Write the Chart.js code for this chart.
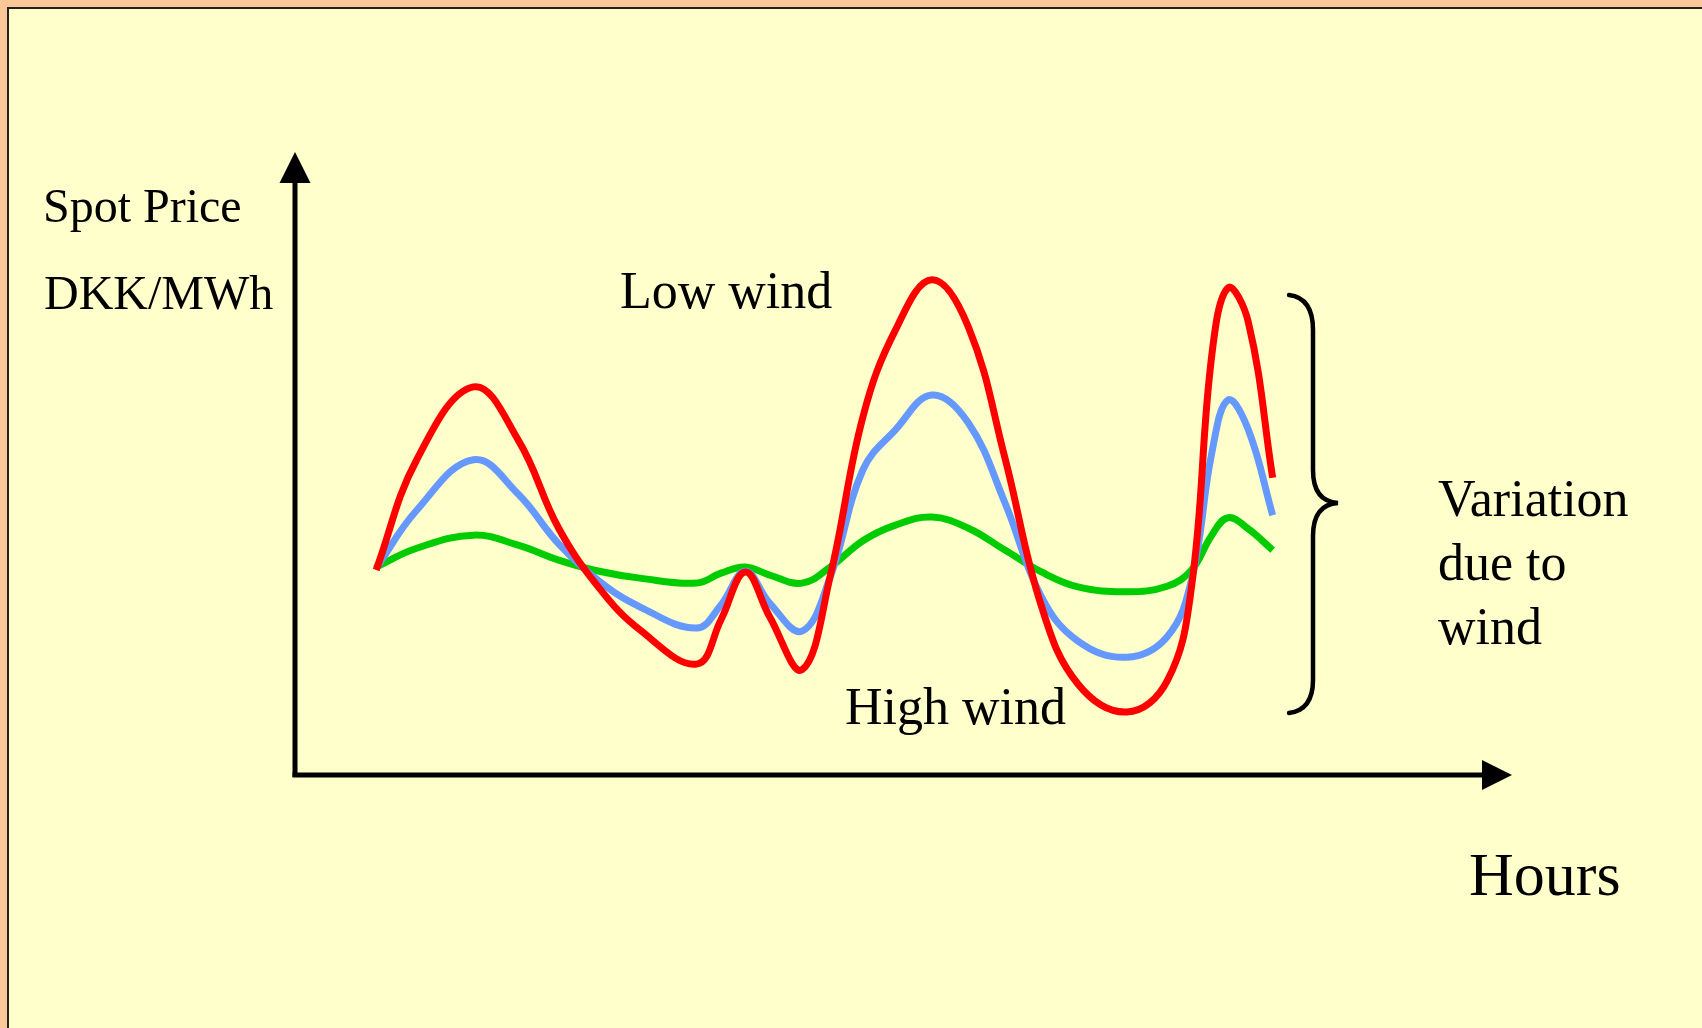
<!DOCTYPE html>
<html>
<head>
<meta charset="utf-8">
<script src="https://cdn.jsdelivr.net/npm/chart.js@4"></script>
<style>
  html, body { margin: 0; padding: 0; background: #ffffcc; overflow: hidden; }
  canvas { display: block; }
</style>
</head>
<body>
<canvas id="myChart" width="1702" height="1028"></canvas>
<script>
// hours along the x axis (schematic)
var hours = [2, 3, 4.4, 5.5, 6.5, 7.5, 8.5, 9.9, 10.5, 11.1, 11.7, 12.5, 13.2, 14, 14.8, 15.7, 16.6, 17.5, 18.4, 19.3, 20.5, 21.5, 22.1, 22.6, 23, 23.5, 24.1];

// spot price, arbitrary units
var lowWind = [32.9, 50.6, 62.3, 53.8, 39.6, 30.0, 23.3, 17.8, 24.9, 32.6, 25.4, 16.9, 32.1, 57.5, 71.4, 79.5, 71.9, 50.9, 27.1, 14.6, 10.1, 15.1, 30.2, 67.4, 78.2, 72.7, 47.7];
var midWind = [33.2, 42.5, 50.6, 45.1, 37.1, 31.1, 27.0, 23.6, 27.3, 32.7, 27.6, 23.1, 31.9, 49.0, 55.4, 61.0, 56.5, 43.7, 28.6, 21.5, 18.9, 22.2, 31.3, 51.7, 60.2, 55.4, 41.7];
var highWind = [33.4, 36.4, 38.5, 36.9, 34.5, 32.7, 31.6, 30.8, 32.4, 33.4, 32.1, 30.8, 33.4, 37.6, 40.1, 41.4, 39.6, 36.1, 32.6, 30.2, 29.4, 30.3, 32.9, 38.5, 41.3, 39.5, 36.1];

var xMax = 30;
var yMax = 100;

function pts(vals) {
  return vals.map(function (v, i) { return { x: hours[i], y: v }; });
}

var serif = '"Liberation Serif", "Times New Roman", serif';

var decor = {
  id: 'decor',
  beforeDraw: function (chart) {
    var c = chart.ctx;
    c.save();
    // orange margin + pale yellow slide with dark frame line
    c.fillStyle = '#fac898';
    c.fillRect(0, 0, chart.width, chart.height);
    c.fillStyle = '#ffffcc';
    c.fillRect(7, 7, chart.width, chart.height);
    c.fillStyle = '#222';
    c.fillRect(7, 7, chart.width, 2);
    c.fillRect(7, 7, 2, chart.height);
    c.restore();
  },
  afterDraw: function (chart) {
    var c = chart.ctx;
    var xs = chart.scales.x, ys = chart.scales.y;
    var x0 = xs.getPixelForValue(0), y0 = ys.getPixelForValue(0);
    var xEnd = xs.getPixelForValue(xMax), yEnd = ys.getPixelForValue(yMax);
    c.save();
    c.fillStyle = '#000';
    c.strokeStyle = '#000';
    c.lineWidth = 5;
    c.lineCap = 'butt';
    // y axis with arrow
    c.beginPath();
    c.moveTo(x0, y0 + 2);
    c.lineTo(x0, yEnd + 30);
    c.stroke();
    c.beginPath();
    c.moveTo(x0, yEnd);
    c.lineTo(x0 - 15.5, yEnd + 31);
    c.lineTo(x0 + 15.5, yEnd + 31);
    c.closePath();
    c.fill();
    // x axis with arrow
    c.beginPath();
    c.moveTo(x0 - 2.5, y0);
    c.lineTo(xEnd - 29, y0);
    c.stroke();
    c.beginPath();
    c.moveTo(xEnd, y0);
    c.lineTo(xEnd - 30, y0 - 15);
    c.lineTo(xEnd - 30, y0 + 15);
    c.closePath();
    c.fill();

    // curly brace
    c.lineWidth = 4.5;
    c.lineCap = 'round';
    c.beginPath();
    c.moveTo(1289, 295);
    c.bezierCurveTo(1305, 297, 1313, 308, 1313, 330);
    c.lineTo(1313, 470);
    c.bezierCurveTo(1313, 492, 1322, 502, 1338, 503);
    c.bezierCurveTo(1322, 504, 1313, 514, 1313, 536);
    c.lineTo(1313, 680);
    c.bezierCurveTo(1313, 700, 1305, 711, 1289, 713);
    c.stroke();

    // labels
    c.textBaseline = 'alphabetic';
    c.textAlign = 'left';
    c.font = '48px ' + serif;
    c.fillText('Spot Price', 43, 222);
    c.fillText('DKK/MWh', 44, 309);
    c.font = '52px ' + serif;
    c.fillText('Low wind', 620, 308);
    c.fillText('High wind', 845, 724);
    c.fillText('Variation', 1438, 516);
    c.fillText('due to', 1438, 580);
    c.fillText('wind', 1438, 644);
    c.font = '62px ' + serif;
    c.fillText('Hours', 1469, 895);
    c.restore();
  }
};

var ctx = document.getElementById('myChart').getContext('2d');
var myChart = new Chart(ctx, {
  type: 'line',
  data: {
    datasets: [
      { label: 'Low wind', data: pts(lowWind), borderColor: '#ff0000' },
      { label: 'Medium wind', data: pts(midWind), borderColor: '#6699ff' },
      { label: 'High wind', data: pts(highWind), borderColor: '#00cc00' }
    ]
  },
  options: {
    responsive: false,
    animation: false,
    devicePixelRatio: 1,
    layout: { padding: { left: 295, right: 190, top: 152, bottom: 253 } },
    elements: {
      line: { borderWidth: 7, tension: 0.4, fill: false, borderCapStyle: 'butt', borderJoinStyle: 'round' },
      point: { radius: 0, hoverRadius: 0 }
    },
    plugins: {
      legend: { display: false },
      tooltip: { enabled: false }
    },
    scales: {
      x: { type: 'linear', min: 0, max: xMax, display: false },
      y: { min: 0, max: yMax, display: false }
    }
  },
  plugins: [decor]
});
</script>
</body>
</html>
